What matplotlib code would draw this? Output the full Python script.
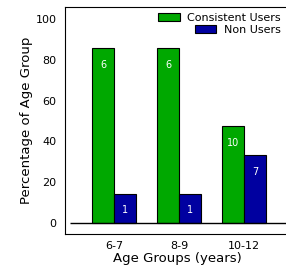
import matplotlib.pyplot as plt
import numpy as np

groups = ['6-7', '8-9', '10-12']
consistent_pct = [85.7, 85.7, 47.6]
non_pct = [14.3, 14.3, 33.3]
consistent_n = [6, 6, 10]
non_n = [1, 1, 7]

green = '#00a800'
blue = '#0000a0'

fig = plt.figure(figsize=(2.86, 2.69), dpi=100)
ax = fig.add_axes([65/286, 35/269, 225/286, 227/269])

x = np.arange(len(groups))
w = 0.34
b1 = ax.bar(x - w/2, consistent_pct, w, color=green, edgecolor='black', linewidth=0.8, label='Consistent Users')
b2 = ax.bar(x + w/2, non_pct, w, color=blue, edgecolor='black', linewidth=0.8, label='Non Users')

# counts inside bars
for bars, nums in [(b1, consistent_n), (b2, non_n)]:
    for r, n in zip(bars, nums):
        ax.annotate(str(n), (r.get_x() + r.get_width()/2, r.get_height()),
                    xytext=(0, -12), textcoords='offset points',
                    ha='center', va='center', color='white', fontsize=7)

ax.set_xlim(-0.754, 2.708)
ax.set_ylim(-5.4, 105.9)
ax.hlines(0, -0.677, 2.708, color='black', linewidth=1)

ax.set_yticks([0, 20, 40, 60, 80, 100])
ax.set_xticks(x)
ax.set_xticklabels(groups)
ax.tick_params(axis='both', length=0, labelsize=8)
ax.tick_params(axis='y', pad=6)
ax.tick_params(axis='x', pad=5)
ax.set_xlabel('Age Groups (years)', fontsize=9.5, labelpad=1)
ax.set_ylabel('Percentage of Age Group', fontsize=9.5, labelpad=2)

for s in ax.spines.values():
    s.set_linewidth(0.8)
ax.spines['right'].set_visible(False)

# legend, one box per entry so they line up on the right
l1 = ax.legend(handles=[b1], loc='upper right', bbox_to_anchor=(281/286, 256/269),
               bbox_transform=fig.transFigure, frameon=False, fontsize=8,
               handlelength=1.9, handleheight=0.7, handletextpad=0.7, borderpad=0, borderaxespad=0)
ax.add_artist(l1)
ax.legend(handles=[b2], loc='upper right', bbox_to_anchor=(281/286, 244/269),
          bbox_transform=fig.transFigure, frameon=False, fontsize=8,
          handlelength=1.9, handleheight=0.7, handletextpad=0.7, borderpad=0, borderaxespad=0)

plt.savefig('out.png', dpi=100)
